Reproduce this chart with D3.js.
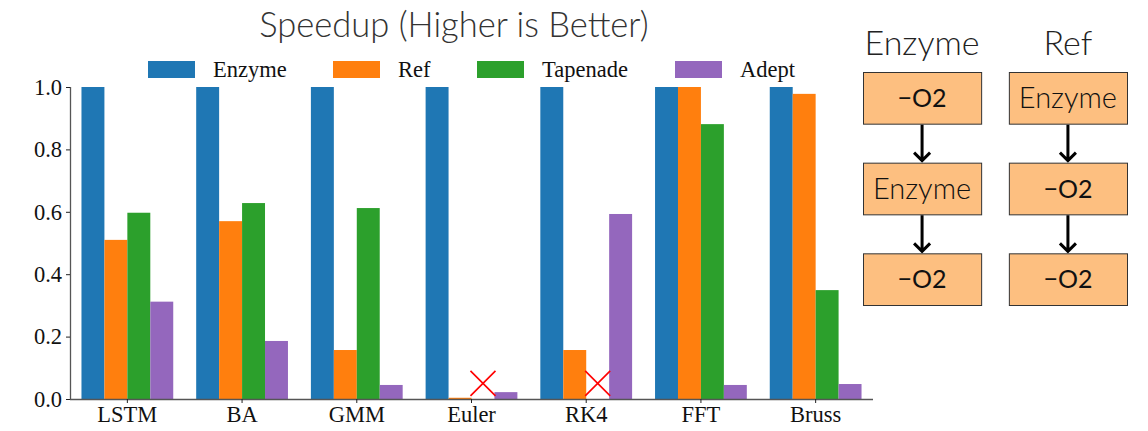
<!DOCTYPE html>
<html>
<head>
<meta charset="utf-8">
<script src="https://cdn.jsdelivr.net/npm/d3@7"></script>
<style>
  body { margin: 0; background: white; }
</style>
</head>
<body>
<svg></svg>
<script>
var categories = ["LSTM", "BA", "GMM", "Euler", "RK4", "FFT", "Bruss"];
var seriesNames = ["Enzyme", "Ref", "Tapenade", "Adept"];
var enzyme   = [1.0, 1.0, 1.0, 1.0, 1.0, 1.0, 1.0];
var ref      = [0.51, 0.57, 0.157, 0.004, 0.157, 1.0, 0.978];
var tapenade = [0.597, 0.628, 0.612, null, null, 0.881, 0.349];
var adept    = [0.312, 0.186, 0.045, 0.022, 0.593, 0.045, 0.048];
var yTicks = [0.0, 0.2, 0.4, 0.6, 0.8, 1.0];
var failMarkY = 0.05;

var colors = ["#1f77b4", "#ff7f0e", "#2ca02c", "#9467bd"];

// pipeline diagram on the right
var pipeHeaders = ["Enzyme", "Ref"];
var pipeSteps = [["-O2", "Enzyme", "-O2"], ["Enzyme", "-O2", "-O2"]];

var svgWidth = 1148, svgHeight = 431;
var svg = d3.select("svg")
    .attr("width", svgWidth)
    .attr("height", svgHeight);

var values = [enzyme, ref, tapenade, adept];
var serif = "'Liberation Serif', 'Times New Roman', serif";

var xScale = d3.scaleBand()
    .domain(categories)
    .range([70, 873])
    .paddingInner(0.2)
    .paddingOuter(0.1);

var xSub = d3.scaleBand()
    .domain(seriesNames)
    .range([0, xScale.bandwidth()]);

var yScale = d3.scaleLinear()
    .domain([0, 1])
    .range([399, 87]);

// bars
seriesNames.forEach(function(s, si) {
    svg.append("g")
        .selectAll("rect")
        .data(categories.map(function(c, i) { return {c: c, v: values[si][i]}; })
              .filter(function(d) { return d.v != null; }))
        .enter().append("rect")
        .attr("x", function(d) { return xScale(d.c) + xSub(s); })
        .attr("y", function(d) { return yScale(d.v); })
        .attr("width", xSub.bandwidth())
        .attr("height", function(d) { return yScale(0) - yScale(d.v); })
        .attr("fill", colors[si]);
});

// red X where Tapenade missing
var missing = categories.filter(function(c, i) { return tapenade[i] == null; });
missing.forEach(function(c) {
    var cx = xScale(c) + xSub("Tapenade") + xSub.bandwidth() / 2;
    var cy = yScale(failMarkY);
    var h = 12.5;
    svg.append("path")
        .attr("d", "M" + (cx - h) + "," + (cy - h) + "L" + (cx + h) + "," + (cy + h) +
                   "M" + (cx - h) + "," + (cy + h) + "L" + (cx + h) + "," + (cy - h))
        .style("stroke", "red")
        .style("stroke-width", 1.6)
        .style("fill", "none");
});

// axes
var y_axis = d3.axisLeft(yScale)
    .tickValues(yTicks)
    .tickFormat(d3.format(".1f"))
    .tickSize(4)
    .tickPadding(4);

var gy = svg.append("g")
    .attr("transform", "translate(70,0)")
    .call(y_axis);

var x_axis = d3.axisBottom(xScale)
    .tickSize(4)
    .tickPadding(3);

var gx = svg.append("g")
    .attr("transform", "translate(0,399)")
    .call(x_axis);

[gx, gy].forEach(function(g) {
    g.select(".domain").attr("stroke", "#555").attr("stroke-width", 1.3);
    g.selectAll(".tick line").attr("stroke", "#222").attr("stroke-width", 1);
    g.selectAll(".tick text")
        .style("font-family", serif)
        .style("font-size", "22.5px")
        .attr("fill", "#111");
});
gy.select(".domain").attr("d", "M0.5,399V87");
gx.select(".domain").attr("d", "M70,0.5H873");

// title
svg.append("text")
    .attr("x", 454)
    .attr("y", 37)
    .attr("text-anchor", "middle")
    .style("font-family", "Lato, sans-serif")
    .style("font-weight", 300)
    .style("font-size", "34.5px")
    .attr("fill", "#333")
    .text("Speedup (Higher is Better)");

// legend
var legendX = [148, 333, 477, 675];
seriesNames.forEach(function(s, i) {
    svg.append("rect")
        .attr("x", legendX[i])
        .attr("y", 61)
        .attr("width", 47)
        .attr("height", 17)
        .attr("fill", colors[i]);
    svg.append("text")
        .attr("x", legendX[i] + 65)
        .attr("y", 77)
        .style("font-family", serif)
        .style("font-size", "22.5px")
        .attr("fill", "#111")
        .text(s);
});

// pipeline diagram
var colX = d3.scaleBand().domain(pipeHeaders).range([863, 1127]).paddingInner(0.19);
var rowY = d3.scaleBand().domain([0, 1, 2]).range([72, 305]).paddingInner(0.43);

pipeHeaders.forEach(function(h, ci) {
    var x0 = colX(h), w = colX.bandwidth(), cx = x0 + w / 2;
    svg.append("text")
        .attr("x", cx)
        .attr("y", 55)
        .attr("text-anchor", "middle")
        .style("font-family", "Lato, sans-serif")
        .style("font-weight", 300)
        .style("font-size", "34px")
        .attr("fill", "#222")
        .text(h);

    pipeSteps[ci].forEach(function(step, ri) {
        var y0 = rowY(ri), bh = rowY.bandwidth();
        svg.append("rect")
            .attr("x", x0 + 0.5)
            .attr("y", y0 + 0.5)
            .attr("width", w)
            .attr("height", bh)
            .attr("fill", "#fdbf80")
            .attr("stroke", "#333")
            .attr("stroke-width", 1);
        var isFlag = step.charAt(0) == "-";
        svg.append("text")
            .attr("x", cx)
            .attr("y", y0 + bh / 2)
            .attr("dy", "0.36em")
            .attr("text-anchor", "middle")
            .style("font-family", "Lato, sans-serif")
            .style("font-weight", isFlag ? 400 : 300)
            .style("font-size", isFlag ? "25px" : "29px")
            .attr("fill", "#111")
            .text(isFlag ? "\u2212O2" : step);

        if (ri < pipeSteps[ci].length - 1) {
            var ya = y0 + bh + 1, yb = rowY(ri + 1) - 2;
            svg.append("path")
                .attr("d", "M" + cx + "," + ya + "V" + yb +
                           "M" + (cx - 8) + "," + (yb - 8) + "L" + cx + "," + yb + "L" + (cx + 8) + "," + (yb - 8))
                .style("stroke", "black")
                .style("stroke-width", 3)
                .style("fill", "none");
        }
    });
});
</script>
</body>
</html>
